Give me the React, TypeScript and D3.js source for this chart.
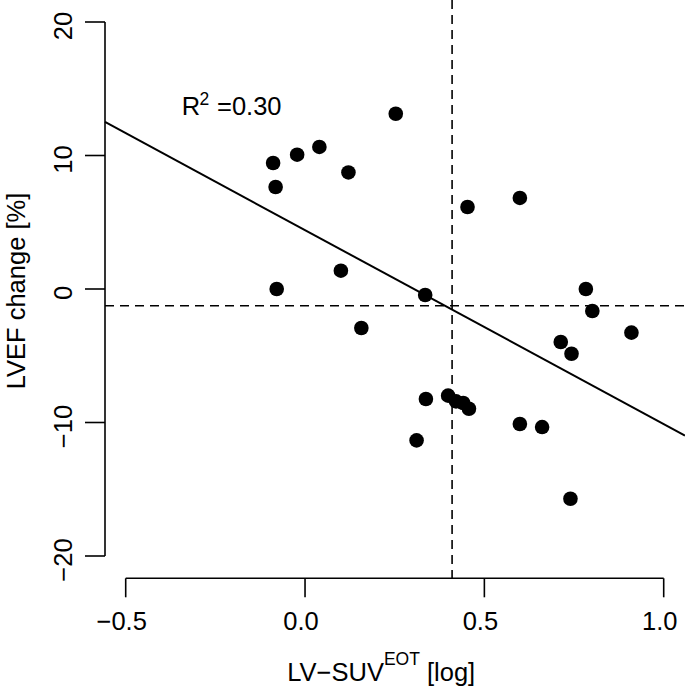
import React from "react";
import * as d3 from "d3";

const xValues = [0.253, -0.089, -0.022, 0.040, 0.121, -0.082, 0.100, -0.079, 0.335, 0.157, 0.337, 0.311, 0.453, 0.599, 0.783, 0.801, 0.910, 0.713, 0.743, 0.399, 0.421, 0.441, 0.457, 0.599, 0.661, 0.740];
const yValues = [13.13, 9.44, 10.06, 10.64, 8.73, 7.64, 1.37, 0.0, -0.45, -2.92, -8.24, -11.34, 6.14, 6.82, 0.0, -1.65, -3.27, -3.97, -4.85, -7.99, -8.42, -8.54, -8.97, -10.11, -10.34, -15.71];
const xTicks = [-0.5, 0.0, 0.5, 1.0];
const yTicks = [-20, -10, 0, 10, 20];
const xTickLabels = ["\u22120.5", "0.0", "0.5", "1.0"];
const yTickLabels = ["\u221220", "\u221210", "0", "10", "20"];
const fitIntercept = 4.41;
const fitSlope = -14.53;
const vRef = 0.41;
const hRef = -1.25;
const r2Text = "=0.30";

const W = 685;
const H = 688;
const FONT = "'Liberation Sans', Arial, Helvetica, sans-serif";
const FS = 25.5;

export default function App() {
  const x = d3.scaleLinear().domain([-0.5, 1.0]).range([125.7, 663.7]);
  const y = d3.scaleLinear().domain([-20, 20]).range([556, 22]);
  const left = 105;
  const right = W;
  const top = 0;
  const bottom = 578.3;
  const xl = x.invert(left);
  const xr = x.invert(right);
  const fitLine = d3.line<number>()
    .x((d) => x(d))
    .y((d) => y(fitIntercept + fitSlope * d));

  return (
    <svg
      width={W}
      height={H}
      style={{ position: "absolute", left: 0, top: 0, background: "#fff" }}
      fontFamily={FONT}
    >
      <rect x={0} y={0} width={W} height={H} fill="#fff" />
      {/* y axis */}
      <line x1={left} x2={left} y1={y(20)} y2={y(-20)} stroke="#000" strokeWidth={1.6} />
      {yTicks.map((t, i) => (
        <g key={"yt" + i}>
          <line x1={left - 20} x2={left} y1={y(t)} y2={y(t)} stroke="#000" strokeWidth={1.6} />
          <text
            transform={`translate(72,${y(t) + 4}) rotate(-90)`}
            textAnchor="middle"
            fontSize={FS}
          >
            {yTickLabels[i]}
          </text>
        </g>
      ))}
      {/* x axis */}
      <line x1={x(-0.5)} x2={x(1.0)} y1={bottom} y2={bottom} stroke="#000" strokeWidth={1.6} />
      {xTicks.map((t, i) => (
        <g key={"xt" + i}>
          <line x1={x(t)} x2={x(t)} y1={bottom} y2={bottom + 19} stroke="#000" strokeWidth={1.6} />
          <text x={x(t) - 4} y={630} textAnchor="middle" fontSize={FS}>
            {xTickLabels[i]}
          </text>
        </g>
      ))}
      {/* reference lines */}
      <line x1={left} x2={right} y1={y(hRef)} y2={y(hRef)} stroke="#000" strokeWidth={1.6} strokeDasharray="9,6" />
      <line x1={x(vRef)} x2={x(vRef)} y1={top} y2={bottom} stroke="#000" strokeWidth={1.6} strokeDasharray="9,6" />
      {/* regression line */}
      <path d={fitLine([xl, xr]) || ""} fill="none" stroke="#000" strokeWidth={2} />
      {/* points */}
      {xValues.map((v, i) => (
        <circle key={"p" + i} cx={x(v)} cy={y(yValues[i])} r={7.3} fill="#000" />
      ))}
      {/* R2 annotation */}
      <text x={181.7} y={115} fontSize={FS}>
        R
        <tspan x={199.5} y={105} fontSize={17.5}>2</tspan>
        <tspan x={217} y={115}>{r2Text}</tspan>
      </text>
      {/* axis titles */}
      <text x={287.3} y={681.3} fontSize={FS}>
        {"LV\u2212SUV"}
        <tspan dy={-16} fontSize={17.5}>EOT</tspan>
        <tspan dy={16}>{" [log]"}</tspan>
      </text>
      <text
        transform={`translate(25,291) rotate(-90)`}
        textAnchor="middle"
        fontSize={FS}
      >
        LVEF change [%]
      </text>
    </svg>
  );
}
